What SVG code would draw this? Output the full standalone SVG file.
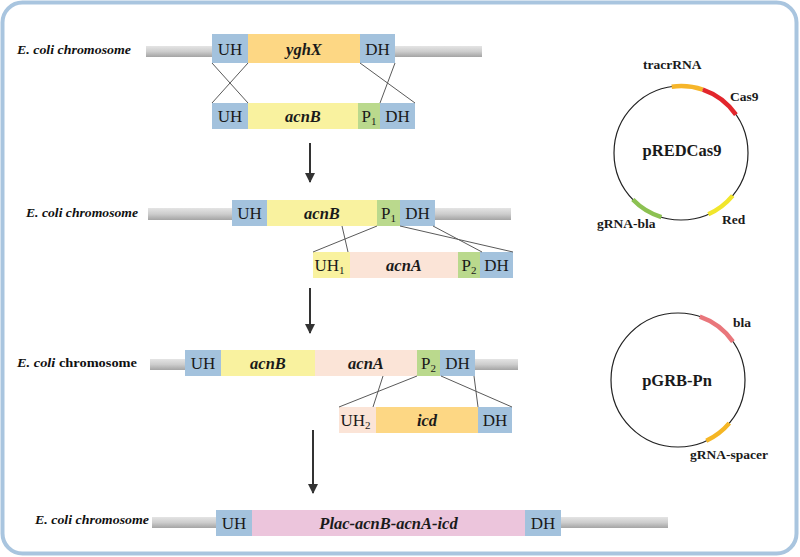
<svg xmlns="http://www.w3.org/2000/svg" width="800" height="557" viewBox="0 0 800 557">
<defs>
<linearGradient id="bar" x1="0" y1="0" x2="0" y2="1">
<stop offset="0" stop-color="#e4e4e4"/>
<stop offset="0.5" stop-color="#cdcdcd"/>
<stop offset="1" stop-color="#a4a4a4"/>
</linearGradient>
<marker id="ah" viewBox="0 0 10 10" refX="9" refY="5" markerWidth="5" markerHeight="5" orient="auto" markerUnits="strokeWidth">
<path d="M0,0 L10,5 L0,10 z" fill="#333"/>
</marker>
</defs>
<style>
.bar{fill:url(#bar)}
.uh{fill:#a3c2dd}
.or{fill:#fdd784}
.ye{fill:#f9f29f}
.gr{fill:#bad98d}
.pe{fill:#fbe4d7}
.pk{fill:#ecc5dc}
.t{font-family:"Liberation Serif","Times New Roman",serif;font-size:17px;fill:#1a1a1a;text-anchor:middle}
.g{font-family:"Liberation Serif","Times New Roman",serif;font-size:16.5px;font-weight:bold;font-style:italic;fill:#1a1a1a;text-anchor:middle}
.lab{font-family:"Liberation Serif","Times New Roman",serif;font-size:13.5px;font-weight:bold;font-style:italic;fill:#111}
.pl{font-family:"Liberation Serif","Times New Roman",serif;font-size:13.5px;font-weight:bold;fill:#1a1a1a}
.pn{font-family:"Liberation Serif","Times New Roman",serif;font-size:16.5px;font-weight:bold;fill:#1a1a1a;text-anchor:middle}
.cx{stroke:#5a5a5a;stroke-width:1;fill:none}
.arr{stroke:#333;stroke-width:2;fill:none;marker-end:url(#ah)}
.ring{stroke:#222;stroke-width:1.2;fill:none}
.arc{stroke-width:4.5;fill:none}
</style>
<rect x="2.5" y="2.5" width="794" height="551" rx="20" fill="#ffffff" stroke="#a9c5df" stroke-width="4"/>

<g id="row1">
<text class="lab" x="17" y="54" textLength="114" lengthAdjust="spacingAndGlyphs">E. coli chromosome</text>
<rect class="bar" x="146" y="46" width="336" height="11"/>
<rect class="uh" x="212" y="34" width="36" height="29"/>
<rect class="or" x="248" y="34" width="112" height="29"/>
<rect class="uh" x="360" y="34" width="35" height="29"/>
<text class="t" x="230" y="54.5">UH</text>
<text class="g" x="304" y="54.5">yghX</text>
<text class="t" x="377.5" y="54.5">DH</text>
</g>

<g id="frag1">
<rect class="uh" x="212" y="103" width="36" height="26"/>
<rect class="ye" x="248" y="103" width="110" height="26"/>
<rect class="gr" x="358" y="103" width="22" height="26"/>
<rect class="uh" x="380" y="103" width="35" height="26"/>
<text class="t" x="230" y="122">UH</text>
<text class="g" x="303" y="122">acnB</text>
<text class="t" x="369" y="122">P<tspan font-size="11" dy="3">1</tspan></text>
<text class="t" x="397.5" y="122">DH</text>
</g>

<g id="row3">
<text class="lab" x="26" y="217" textLength="112" lengthAdjust="spacingAndGlyphs">E. coli chromosome</text>
<rect class="bar" x="148" y="208" width="363" height="12"/>
<rect class="uh" x="232" y="200" width="35" height="26"/>
<rect class="ye" x="267" y="200" width="110" height="26"/>
<rect class="gr" x="377" y="200" width="23" height="26"/>
<rect class="uh" x="400" y="200" width="35" height="26"/>
<text class="t" x="249.5" y="219">UH</text>
<text class="g" x="322" y="219">acnB</text>
<text class="t" x="388.5" y="219">P<tspan font-size="11" dy="3">1</tspan></text>
<text class="t" x="417.5" y="219">DH</text>
</g>

<g id="frag2">
<rect class="ye" x="313" y="252" width="37" height="26"/>
<rect class="pe" x="350" y="252" width="108" height="26"/>
<rect class="gr" x="458" y="252" width="22" height="26"/>
<rect class="uh" x="480" y="252" width="33" height="26"/>
<text class="t" x="329.5" y="271">UH<tspan font-size="11" dy="3">1</tspan></text>
<text class="g" x="404" y="271">acnA</text>
<text class="t" x="469" y="271">P<tspan font-size="11" dy="3">2</tspan></text>
<text class="t" x="496.5" y="271">DH</text>
</g>

<g id="row5">
<text class="lab" x="17" y="367" textLength="120" lengthAdjust="spacingAndGlyphs">E. coli<tspan font-style="normal"> chromosome</tspan></text>
<rect class="bar" x="150" y="359" width="368" height="11"/>
<rect class="uh" x="185" y="350" width="36" height="26"/>
<rect class="ye" x="221" y="350" width="94" height="26"/>
<rect class="pe" x="315" y="350" width="102" height="26"/>
<rect class="gr" x="417" y="350" width="23" height="26"/>
<rect class="uh" x="440" y="350" width="35" height="26"/>
<text class="t" x="203" y="369">UH</text>
<text class="g" x="268" y="369">acnB</text>
<text class="g" x="366" y="369">acnA</text>
<text class="t" x="428.5" y="369">P<tspan font-size="11" dy="3">2</tspan></text>
<text class="t" x="457.5" y="369">DH</text>
</g>

<g id="frag3">
<rect class="pe" x="339" y="407" width="37" height="26"/>
<rect class="or" x="376" y="407" width="102" height="26"/>
<rect class="uh" x="478" y="407" width="34" height="26"/>
<text class="t" x="355.5" y="426">UH<tspan font-size="11" dy="3">2</tspan></text>
<text class="g" x="427" y="426">icd</text>
<text class="t" x="495" y="426">DH</text>
</g>

<g id="row7">
<text class="lab" x="35" y="524" textLength="114" lengthAdjust="spacingAndGlyphs">E. coli chromosome</text>
<rect class="bar" x="152" y="517" width="516" height="11"/>
<rect class="uh" x="216" y="510" width="36" height="26"/>
<rect class="pk" x="252" y="510" width="273" height="26"/>
<rect class="uh" x="525" y="510" width="36" height="26"/>
<text class="t" x="234" y="529">UH</text>
<text class="g" x="388.5" y="529">Plac-acnB-acnA-icd</text>
<text class="t" x="543" y="529">DH</text>
</g>

<g id="connectors">
<line class="cx" x1="212" y1="63" x2="248" y2="103"/>
<line class="cx" x1="248" y1="63" x2="212" y2="103"/>
<line class="cx" x1="360" y1="63" x2="415" y2="103"/>
<line class="cx" x1="395" y1="63" x2="380" y2="103"/>
<line class="cx" x1="342" y1="226" x2="348" y2="252"/>
<line class="cx" x1="377" y1="226" x2="313" y2="252"/>
<line class="cx" x1="400" y1="226" x2="513" y2="252"/>
<line class="cx" x1="433" y1="226" x2="482" y2="252"/>
<line class="cx" x1="383" y1="376" x2="373" y2="407"/>
<line class="cx" x1="417" y1="376" x2="339" y2="407"/>
<line class="cx" x1="441" y1="376" x2="512" y2="407"/>
<line class="cx" x1="474" y1="376" x2="478" y2="407"/>
<line class="arr" x1="310" y1="143" x2="310" y2="182"/>
<line class="arr" x1="310" y1="288" x2="310" y2="333"/>
<line class="arr" x1="313" y1="430" x2="313" y2="493"/>
</g>

<g id="pREDCas9">
<circle class="ring" cx="681" cy="153" r="67"/>
<path class="arc" stroke="#f6b52a" d="M671.7,86.7 A67,67 0 0 1 702.8,89.6"/>
<path class="arc" stroke="#e2262c" d="M702.8,89.6 A67,67 0 0 1 735.9,114.6"/>
<path class="arc" stroke="#f1e62c" d="M732.7,195.6 A67,67 0 0 1 708.3,214.2"/>
<path class="arc" stroke="#8cc152" d="M661.4,217.1 A67,67 0 0 1 632.8,199.5"/>
<text class="pl" x="643" y="69">tracrRNA</text>
<text class="pl" x="730" y="101">Cas9</text>
<text class="pl" x="722" y="224">Red</text>
<text class="pl" x="597" y="228">gRNA-bla</text>
<text class="pn" x="682" y="156">pREDCas9</text>
</g>

<g id="pGRB-Pn">
<circle class="ring" cx="678" cy="380" r="67"/>
<path class="arc" stroke="#e9767b" d="M699.8,316.6 A67,67 0 0 1 732.9,341.6"/>
<path class="arc" stroke="#f5b624" d="M729.3,423.1 A67,67 0 0 1 706.3,440.7"/>
<text class="pl" x="733" y="327">bla</text>
<text class="pl" x="690" y="459">gRNA-spacer</text>
<text class="pn" x="677" y="386">pGRB-Pn</text>
</g>
</svg>
